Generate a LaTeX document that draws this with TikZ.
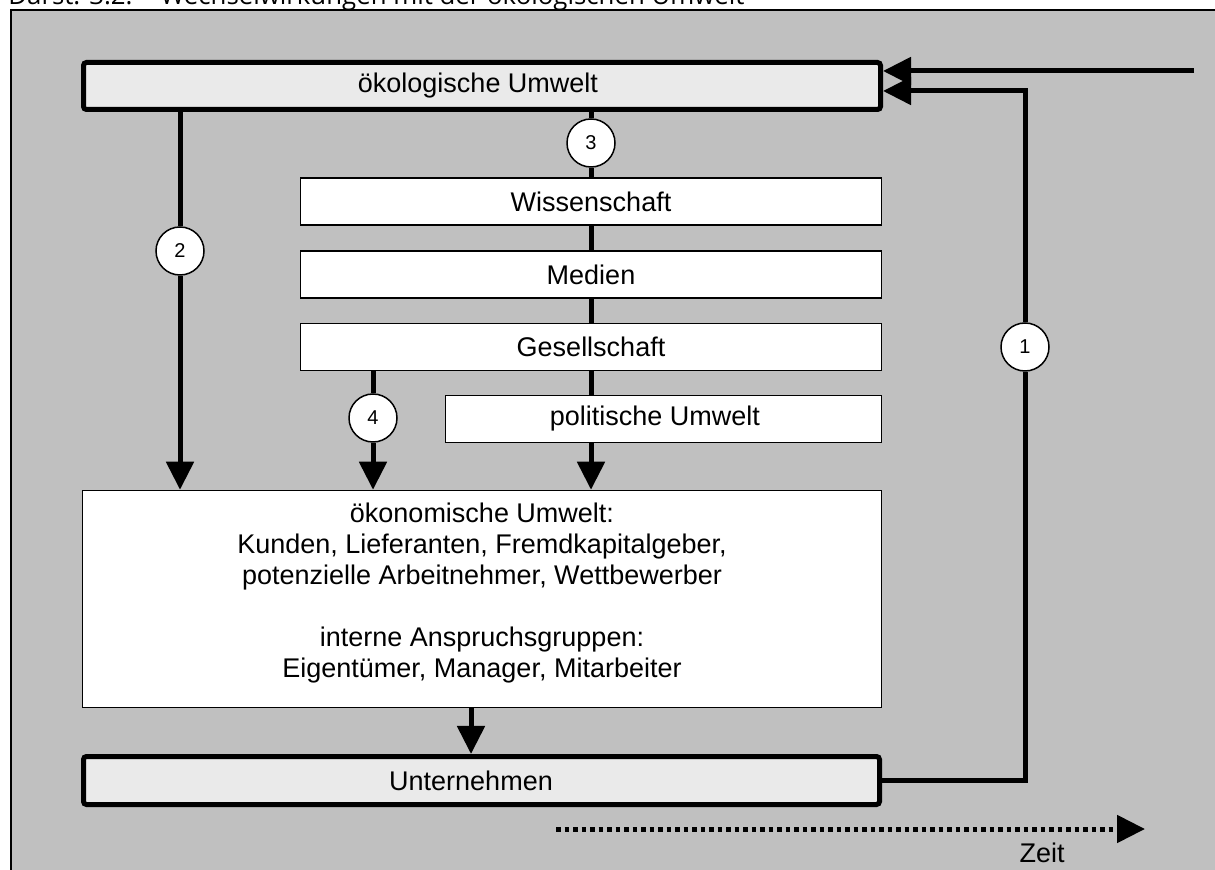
\documentclass[tikz,border=0pt]{standalone}
\usepackage{fontspec}
\setmainfont{Liberation Sans}
\newfontfamily\captionfont{Open Sans}
\usetikzlibrary{arrows.meta}
\definecolor{panelgray}{HTML}{C0C0C0}
\definecolor{boxgray}{HTML}{EAEAEA}
\tikzset{
  tri/.tip={Triangle[length=14pt,width=13.5pt]},
  thickbox/.style={draw=black, line width=2.5pt, fill=boxgray, rounded corners=1.5pt,
    inner sep=0pt, font=\fontsize{13.5pt}{15.5pt}\selectfont},
  thinbox/.style={draw=black, line width=0.75pt, fill=white, inner sep=0pt,
    font=\fontsize{13.5pt}{15.5pt}\selectfont},
  txt/.style={inner sep=0pt, align=center, font=\fontsize{13.5pt}{15.5pt}\selectfont},
  numcircle/.style={circle, draw=black, line width=0.75pt, fill=white, minimum size=24pt,
    inner sep=0pt, font=\fontsize{10pt}{11pt}\selectfont},
  conn/.style={line width=2.5pt},
  timeline/.style={line width=2.5pt, dash pattern=on 2.25pt off 2pt},
}
\begin{document}
\begin{tikzpicture}[x=0.5pt,y=-0.5pt]
\useasboundingbox (0,0) rectangle (1215,870);
\clip (0,0) rectangle (1215,870);
% page and grey panel
\fill[white] (0,0) rectangle (1215,870);
\draw[fill=panelgray, line width=0.75pt] (11,10) rectangle (1240,900);
% caption line (its upper part lies above the page edge)
\node[anchor=base west, inner sep=0pt, font=\captionfont\fontsize{12.9pt}{14pt}\selectfont]
  (cap) at (8,5) {Darst. 3.2:\hspace{14pt}Wechselwirkungen mit der ökologischen Umwelt};

% boxes
\node[thickbox, minimum width=398.5pt, minimum height=23.5pt] (oeko) at (482,86) {};
\node[txt] (oekotxt) at (478,86) {ökologische Umwelt};
\node[thinbox, minimum width=290.5pt, minimum height=23.5pt] (wiss) at (591,201.5) {Wissenschaft};
\node[thinbox, minimum width=290.5pt, minimum height=23.5pt] (medien) at (591,274.5) {Medien};
\node[thinbox, minimum width=290.5pt, minimum height=23.5pt] (ges) at (591,347) {Gesellschaft};
\node[thinbox, minimum width=218pt, minimum height=23.5pt] (pol) at (663.5,419) {};
\node[txt] (poltxt) at (655,419) {politische Umwelt};
\node[thinbox, minimum width=399.5pt, minimum height=108.5pt] (oekon) at (482,599) {};
\node[txt] (oekontxt) at (482,593.5) {ökonomische Umwelt:\\Kunden, Lieferanten, Fremdkapitalgeber,\\potenzielle Arbeitnehmer, Wettbewerber\\[15.5pt]interne Anspruchsgruppen:\\Eigentümer, Manager, Mitarbeiter};
\node[thickbox, minimum width=398pt, minimum height=24pt] (unt) at (481.5,780.5) {};
\node[txt] (unttxt) at (471,780.5) {Unternehmen};

% numbered circles
\node[numcircle] (c1) at (1025,347) {1};
\node[numcircle] (c2) at (180,251) {2};
\node[numcircle] (c3) at (591,143) {3};
\node[numcircle] (c4) at (373,418) {4};

% free ends of connectors
\coordinate (inflow) at (1194,71);
\coordinate (fbtop) at (1025,91);
\coordinate (t0) at (556,829);
\coordinate (t1) at (1145,829);

% path 2: ecology -> economy
\draw[conn] (c2 |- oeko.south) -- (c2.north);
\draw[conn,-tri] (c2.south) -- (c2 |- oekon.north);
% path 3: ecology -> science -> media -> society -> politics -> economy
\draw[conn] (c3 |- oeko.south) -- (c3.north);
\draw[conn] (c3.south) -- (wiss.north);
\draw[conn] (wiss.south) -- (medien.north);
\draw[conn] (medien.south) -- (ges.north);
\draw[conn] (ges.south) -- (ges.south |- pol.north);
\draw[conn,-tri] (ges.south |- pol.south) -- (ges.south |- oekon.north);
% path 4: society -> economy
\draw[conn] (c4 |- ges.south) -- (c4.north);
\draw[conn,-tri] (c4.south) -- (c4 |- oekon.north);
% economy -> company
\draw[conn,-tri] (oekon.south -| unttxt) -- (unt.north -| unttxt);
% path 1: company feeds back to ecology
\draw[conn] (unt.east) -- (c1 |- unt.east) -- (c1.south);
\draw[conn,-tri] (c1.north) -- (fbtop) -- (fbtop -| oeko.east);
% external inflow
\draw[conn,-tri] (inflow) -- (inflow -| oeko.east);

% time axis
\draw[timeline,-tri] (t0) -- (t1);
\node[txt] (zeit) at (1042,853) {Zeit};
\end{tikzpicture}
\end{document}
